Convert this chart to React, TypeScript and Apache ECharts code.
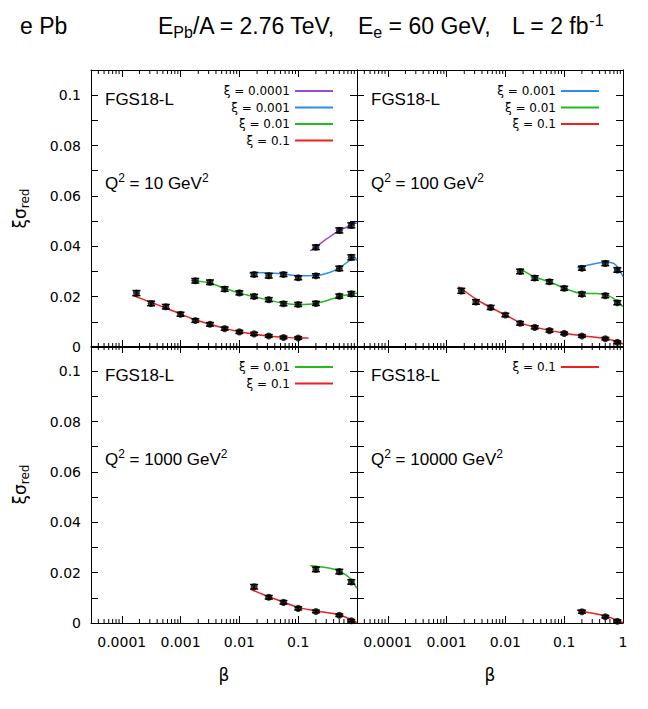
import { useEffect, useRef } from 'react';
import * as echarts from 'echarts';

// ---- axes ----
const xTickLabels = ['0.0001', '0.001', '0.01', '0.1', '1'];
const xMinorTicks = [
  4e-5, 5e-5, 6e-5, 7e-5, 8e-5, 9e-5,
  2e-4, 3e-4, 4e-4, 5e-4, 6e-4, 7e-4, 8e-4, 9e-4,
  0.002, 0.003, 0.004, 0.005, 0.006, 0.007, 0.008, 0.009,
  0.02, 0.03, 0.04, 0.05, 0.06, 0.07, 0.08, 0.09,
  0.2, 0.3, 0.4, 0.5, 0.6, 0.7, 0.8, 0.9,
];
const yTickLabels = ['0', '0.02', '0.04', '0.06', '0.08', '0.1'];
const q2Labels = ['10', '100', '1000', '10000'];

// ---- Q² = 10 GeV² ----
const q10_xi0001_beta = [0.2, 0.5, 0.8];
const q10_xi0001_val = [0.0396, 0.0463, 0.0483];
const q10_xi0001_err = [0.0009, 0.001, 0.001];
const q10_xi0001_curveBeta = [0.16, 0.2, 0.3, 0.5, 0.8, 1.0];
const q10_xi0001_curveVal = [0.0382, 0.0397, 0.0428, 0.0462, 0.0484, 0.0493];

const q10_xi001_beta = [0.0178, 0.0316, 0.0562, 0.1, 0.2, 0.5, 0.8];
const q10_xi001_val = [0.0288, 0.0283, 0.0288, 0.0275, 0.0283, 0.0312, 0.0356];
const q10_xi001_err = [0.0008, 0.0009, 0.0008, 0.0008, 0.0008, 0.0009, 0.001];
const q10_xi001_curveBeta = [0.0148, 0.0178, 0.0316, 0.0562, 0.1, 0.2, 0.35, 0.5, 0.8, 0.9, 1.0];
const q10_xi001_curveVal = [0.0293, 0.0296, 0.0295, 0.029, 0.0283, 0.0284, 0.0297, 0.0314, 0.0349, 0.0357, 0.0343];

const q10_xi01_beta = [0.00178, 0.00316, 0.00562, 0.01, 0.0178, 0.0316, 0.0562, 0.1, 0.2, 0.5, 0.8];
const q10_xi01_val = [0.0263, 0.0257, 0.023, 0.0215, 0.0201, 0.0188, 0.0172, 0.0169, 0.0173, 0.0202, 0.0211];
const q10_xi01_err = [0.0009, 0.0009, 0.0009, 0.0008, 0.0008, 0.0008, 0.0008, 0.0008, 0.0008, 0.0008, 0.0009];
const q10_xi01_curveBeta = [0.0015, 0.00178, 0.00316, 0.00562, 0.01, 0.0178, 0.0316, 0.0562, 0.1, 0.2, 0.5, 0.8, 1.0];
const q10_xi01_curveVal = [0.0264, 0.0263, 0.0254, 0.0233, 0.0214, 0.02, 0.0186, 0.0174, 0.0169, 0.0173, 0.02, 0.021, 0.0213];

const q10_xi1_beta = [0.000178, 0.000316, 0.000562, 0.001, 0.00178, 0.00316, 0.00562, 0.01, 0.0178, 0.0316, 0.0562, 0.1];
const q10_xi1_val = [0.0214, 0.0173, 0.016, 0.013, 0.0105, 0.009, 0.0073, 0.006, 0.0052, 0.0044, 0.0038, 0.0036];
const q10_xi1_err = [0.001, 0.0009, 0.0009, 0.0008, 0.0007, 0.0007, 0.0006, 0.0006, 0.0006, 0.0005, 0.0005, 0.0005];
const q10_xi1_curveBeta = [0.00015, 0.000178, 0.000316, 0.000562, 0.001, 0.00178, 0.00316, 0.00562, 0.01, 0.0178, 0.0316, 0.0562, 0.1, 0.15];
const q10_xi1_curveVal = [0.0205, 0.0199, 0.0177, 0.0155, 0.0131, 0.0108, 0.009, 0.0074, 0.0061, 0.0051, 0.0044, 0.0039, 0.0036, 0.0036];

// ---- Q² = 100 GeV² ----
const q100_xi001_beta = [0.2, 0.5, 0.8];
const q100_xi001_val = [0.0313, 0.0332, 0.0306];
const q100_xi001_err = [0.0008, 0.0009, 0.0009];
const q100_xi001_curveBeta = [0.167, 0.2, 0.35, 0.5, 0.7, 0.85, 1.0];
const q100_xi001_curveVal = [0.0316, 0.032, 0.0332, 0.0337, 0.0332, 0.0308, 0.0279];

const q100_xi01_beta = [0.0178, 0.0316, 0.0562, 0.1, 0.2, 0.5, 0.8];
const q100_xi01_val = [0.03, 0.0274, 0.0259, 0.0233, 0.021, 0.0204, 0.0176];
const q100_xi01_err = [0.0009, 0.0009, 0.0008, 0.0008, 0.0008, 0.0008, 0.0008];
const q100_xi01_curveBeta = [0.0192, 0.0316, 0.0562, 0.1, 0.2, 0.35, 0.5, 0.8, 1.0];
const q100_xi01_curveVal = [0.0306, 0.0278, 0.0259, 0.0234, 0.0213, 0.0212, 0.0209, 0.0182, 0.016];

const q100_xi1_beta = [0.00178, 0.00316, 0.00562, 0.01, 0.0178, 0.0316, 0.0562, 0.1, 0.2, 0.5, 0.8];
const q100_xi1_val = [0.0223, 0.0179, 0.0157, 0.0127, 0.0094, 0.0078, 0.0065, 0.0054, 0.0044, 0.0033, 0.0019];
const q100_xi1_err = [0.001, 0.0009, 0.0008, 0.0007, 0.0007, 0.0006, 0.0006, 0.0005, 0.0005, 0.0005, 0.0005];
const q100_xi1_curveBeta = [0.00158, 0.00178, 0.00316, 0.00562, 0.01, 0.0178, 0.0316, 0.0562, 0.1, 0.2, 0.5, 0.8, 1.0];
const q100_xi1_curveVal = [0.0239, 0.0232, 0.019, 0.0157, 0.0127, 0.0097, 0.0079, 0.0066, 0.0055, 0.0045, 0.0034, 0.0022, 0.0012];

// ---- Q² = 1000 GeV² ----
const q1000_xi01_beta = [0.2, 0.5, 0.8];
const q1000_xi01_val = [0.0213, 0.0204, 0.0163];
const q1000_xi01_err = [0.0009, 0.0009, 0.0009];
const q1000_xi01_curveBeta = [0.16, 0.2, 0.35, 0.5, 0.7, 0.8, 0.9, 1.0];
const q1000_xi01_curveVal = [0.0227, 0.0225, 0.0217, 0.0206, 0.0185, 0.017, 0.0153, 0.0138];

const q1000_xi1_beta = [0.0178, 0.0316, 0.0562, 0.1, 0.2, 0.5, 0.8];
const q1000_xi1_val = [0.0144, 0.0102, 0.0082, 0.0058, 0.0046, 0.0031, 0.0009];
const q1000_xi1_err = [0.0009, 0.0007, 0.0007, 0.0006, 0.0005, 0.0005, 0.0005];
const q1000_xi1_curveBeta = [0.0158, 0.0178, 0.0316, 0.0562, 0.1, 0.2, 0.5, 0.8, 1.0];
const q1000_xi1_curveVal = [0.0134, 0.0128, 0.0104, 0.0083, 0.0062, 0.0048, 0.0032, 0.0013, 0.0001];

// ---- Q² = 10000 GeV² ----
const q10000_xi1_beta = [0.2, 0.5, 0.8];
const q10000_xi1_val = [0.0045, 0.0025, 0.0007];
const q10000_xi1_err = [0.0006, 0.0005, 0.0005];
const q10000_xi1_curveBeta = [0.165, 0.2, 0.5, 0.8, 1.0];
const q10000_xi1_curveVal = [0.0052, 0.0047, 0.0028, 0.0011, 0.0001];

type XiSet = {
  name: string;
  beta: number[];
  val: number[];
  err: number[];
  curveBeta: number[];
  curveVal: number[];
};

const mk = (name: string, beta: number[], val: number[], err: number[], curveBeta: number[], curveVal: number[]): XiSet =>
  ({ name, beta, val, err, curveBeta, curveVal });

const panelSets: XiSet[][] = [
  [
    mk('ξ = 0.0001', q10_xi0001_beta, q10_xi0001_val, q10_xi0001_err, q10_xi0001_curveBeta, q10_xi0001_curveVal),
    mk('ξ = 0.001', q10_xi001_beta, q10_xi001_val, q10_xi001_err, q10_xi001_curveBeta, q10_xi001_curveVal),
    mk('ξ = 0.01', q10_xi01_beta, q10_xi01_val, q10_xi01_err, q10_xi01_curveBeta, q10_xi01_curveVal),
    mk('ξ = 0.1', q10_xi1_beta, q10_xi1_val, q10_xi1_err, q10_xi1_curveBeta, q10_xi1_curveVal),
  ],
  [
    mk('ξ = 0.001', q100_xi001_beta, q100_xi001_val, q100_xi001_err, q100_xi001_curveBeta, q100_xi001_curveVal),
    mk('ξ = 0.01', q100_xi01_beta, q100_xi01_val, q100_xi01_err, q100_xi01_curveBeta, q100_xi01_curveVal),
    mk('ξ = 0.1', q100_xi1_beta, q100_xi1_val, q100_xi1_err, q100_xi1_curveBeta, q100_xi1_curveVal),
  ],
  [
    mk('ξ = 0.01', q1000_xi01_beta, q1000_xi01_val, q1000_xi01_err, q1000_xi01_curveBeta, q1000_xi01_curveVal),
    mk('ξ = 0.1', q1000_xi1_beta, q1000_xi1_val, q1000_xi1_err, q1000_xi1_curveBeta, q1000_xi1_curveVal),
  ],
  [
    mk('ξ = 0.1', q10000_xi1_beta, q10000_xi1_val, q10000_xi1_err, q10000_xi1_curveBeta, q10000_xi1_curveVal),
  ],
];

// ---- styling ----
const LINE_COLORS: Record<string, string> = {
  'ξ = 0.0001': '#9a4ad6',
  'ξ = 0.001': '#2a8ef0',
  'ξ = 0.01': '#1ebe1e',
  'ξ = 0.1': '#f21e1e',
};
const TICK_FONT = 'DejaVu Sans';
const TEXT_FONT = 'Liberation Sans';
const PAGE_W = 648;
const GRID_LEFT = [91, 357, 91, 357];
const GRID_TOP = [70, 70, 346, 346];
const GRID_W = 266;
const GRID_H = 277;
const X_MIN = 3e-5;
const X_MAX = 1;
const Y_MAX = 0.11;

const xLabel = (v: number, hideOne: boolean) => {
  const hit = xTickLabels.find((l) => Math.abs(Math.log10(parseFloat(l)) - Math.log10(v)) < 1e-6);
  if (!hit) return '';
  if (hideOne && hit === '1') return '';
  return hit;
};
const yLabel = (v: number) => {
  const hit = yTickLabels.find((l) => Math.abs(parseFloat(l) - v) < 1e-9);
  return hit ?? '';
};

function buildOption(): any {
  const grid: any[] = [];
  const xAxis: any[] = [];
  const yAxis: any[] = [];
  const series: any[] = [];
  const legend: any[] = [];
  const graphic: any[] = [];

  panelSets.forEach((sets, i) => {
    const bottomRow = i >= 2;
    const leftCol = i % 2 === 0;
    grid.push({ left: GRID_LEFT[i], top: GRID_TOP[i], width: GRID_W, height: GRID_H });

    const axisLine = { show: true, onZero: false, lineStyle: { color: '#000', width: 1 } };
    const axisTick = { show: true, inside: true, length: 7, lineStyle: { color: '#000', width: 1 } };
    const xCommon = {
      type: 'log', logBase: 10, min: X_MIN, max: X_MAX, gridIndex: i,
      splitLine: { show: false }, axisLine, axisTick,
    };
    xAxis.push({
      ...xCommon, position: 'bottom',
      axisLabel: {
        show: bottomRow, margin: 12, color: '#000', fontFamily: TICK_FONT, fontSize: 14,
        showMinLabel: true, showMaxLabel: true,
        formatter: (v: number) => xLabel(v, leftCol),
      },
    });
    xAxis.push({ ...xCommon, position: 'top', axisLabel: { show: false } });

    const yCommon = {
      type: 'value', min: 0, max: Y_MAX, interval: 0.01, gridIndex: i,
      splitLine: { show: false }, axisLine, axisTick,
    };
    yAxis.push({
      ...yCommon, position: 'left',
      axisLabel: {
        show: leftCol, margin: 10, color: '#000', fontFamily: TICK_FONT, fontSize: 14,
        formatter: (v: number) => yLabel(v),
      },
    });
    yAxis.push({ ...yCommon, position: 'right', axisLabel: { show: false } });

    const xi = 2 * i;
    // minor ticks of the log β axis, bottom and top edges
    series.push({
      type: 'custom', xAxisIndex: xi, yAxisIndex: xi, silent: true, clip: false, z: 1,
      data: xMinorTicks.map((b) => [b, 0]),
      encode: { x: 0, y: 1 },
      renderItem: (params: any, api: any) => {
        const x = api.coord([api.value(0), 0])[0];
        const cs = params.coordSys;
        const st = { stroke: '#000', lineWidth: 1 };
        return {
          type: 'group',
          children: [
            { type: 'line', shape: { x1: x, y1: cs.y + cs.height, x2: x, y2: cs.y + cs.height - 4 }, style: st },
            { type: 'line', shape: { x1: x, y1: cs.y, x2: x, y2: cs.y + 4 }, style: st },
          ],
        };
      },
    });

    sets.forEach((s) => {
      const color = LINE_COLORS[s.name];
      series.push({
        type: 'line', name: s.name, xAxisIndex: xi, yAxisIndex: xi, z: 2, silent: true,
        smooth: 0.35, showSymbol: false,
        data: s.curveBeta.map((b, k) => [b, s.curveVal[k]]),
        lineStyle: { color, width: 1.5 }, itemStyle: { color },
      });
      series.push({
        type: 'custom', name: 'err', xAxisIndex: xi, yAxisIndex: xi, z: 3, silent: true,
        data: s.beta.map((b, k) => [b, s.val[k], s.err[k]]),
        encode: { x: 0, y: 1 },
        renderItem: (_p: any, api: any) => {
          const b = api.value(0);
          const v = api.value(1);
          const e = api.value(2);
          const hi = api.coord([b, v + e]);
          const lo = api.coord([b, v - e]);
          const cap = 4;
          const st = { stroke: '#000', lineWidth: 1.5 };
          return {
            type: 'group',
            children: [
              { type: 'line', shape: { x1: hi[0], y1: hi[1], x2: lo[0], y2: lo[1] }, style: st },
              { type: 'line', shape: { x1: hi[0] - cap, y1: hi[1], x2: hi[0] + cap, y2: hi[1] }, style: st },
              { type: 'line', shape: { x1: lo[0] - cap, y1: lo[1], x2: lo[0] + cap, y2: lo[1] }, style: st },
            ],
          };
        },
      });
      series.push({
        type: 'scatter', name: 'pts', xAxisIndex: xi, yAxisIndex: xi, z: 4, silent: true,
        symbol: 'circle', symbolSize: 7,
        data: s.beta.map((b, k) => [b, s.val[k]]),
        itemStyle: { color: '#000' },
      });
    });

    legend.push({
      orient: 'vertical', align: 'right',
      right: PAGE_W - (GRID_LEFT[i] + 242), top: GRID_TOP[i] + 13,
      icon: 'rect', itemWidth: 38, itemHeight: 2, itemGap: 0.5, padding: 0,
      selectedMode: false,
      textStyle: { color: '#000', fontFamily: TICK_FONT, fontSize: 12, lineHeight: 16 },
      data: sets.map((s) => s.name),
    });

    graphic.push({
      type: 'text', x: GRID_LEFT[i] + 14, y: GRID_TOP[i] + 29.5,
      style: { text: 'FGS18-L', fontFamily: TEXT_FONT, fontSize: 17, fill: '#000', align: 'left', verticalAlign: 'middle' },
    });
    graphic.push({
      type: 'text', x: GRID_LEFT[i] + 14, y: GRID_TOP[i] + 113,
      style: {
        text: `{m|Q}{s|2}{m| = ${q2Labels[i]} GeV}{s|2}`,
        align: 'left', verticalAlign: 'middle', fill: '#000',
        rich: {
          m: { fontFamily: TEXT_FONT, fontSize: 17, lineHeight: 22, fill: '#000' },
          s: { fontFamily: TEXT_FONT, fontSize: 12, lineHeight: 13, verticalAlign: 'top', fill: '#000' },
        },
      },
    });
    if (leftCol) {
      graphic.push({
        type: 'text', x: 20, y: GRID_TOP[i] + GRID_H / 2, rotation: Math.PI / 2,
        style: {
          text: '{m|ξσ}{s|red}', align: 'center', verticalAlign: 'middle', fill: '#000',
          rich: {
            m: { fontFamily: TICK_FONT, fontSize: 17, lineHeight: 22, fill: '#000' },
            s: { fontFamily: TICK_FONT, fontSize: 12, lineHeight: 13, verticalAlign: 'bottom', fill: '#000' },
          },
        },
      });
    }
    if (bottomRow) {
      graphic.push({
        type: 'text', x: GRID_LEFT[i] + GRID_W / 2, y: 675,
        style: { text: 'β', fontFamily: TICK_FONT, fontSize: 17, fill: '#000', align: 'center', verticalAlign: 'middle' },
      });
    }
  });

  const titleRich = {
    m: { fontFamily: TEXT_FONT, fontSize: 23, lineHeight: 28, fill: '#000' },
    sub: { fontFamily: TEXT_FONT, fontSize: 16, lineHeight: 16, verticalAlign: 'bottom', fill: '#000' },
    sup: { fontFamily: TEXT_FONT, fontSize: 16, lineHeight: 16, verticalAlign: 'top', fill: '#000' },
  };
  const titleParts = [
    { x: 20, text: '{m|e Pb}' },
    { x: 158, text: '{m|E}{sub|Pb}{m|/A = 2.76 TeV,}' },
    { x: 358, text: '{m|E}{sub|e}{m| = 60 GeV,}' },
    { x: 512, text: '{m|L = 2 fb}{sup|-1}' },
  ];
  titleParts.forEach((t) => {
    graphic.push({
      type: 'text', x: t.x, y: 26,
      style: { text: t.text, align: 'left', verticalAlign: 'middle', fill: '#000', rich: titleRich },
    });
  });

  return {
    animation: false,
    backgroundColor: '#fff',
    grid, xAxis, yAxis, series, legend, graphic,
  };
}

export default function App() {
  const ref = useRef<HTMLDivElement | null>(null);
  useEffect(() => {
    if (!ref.current) return;
    const chart = echarts.init(ref.current, undefined, { renderer: 'svg' });
    chart.setOption(buildOption());
    return () => chart.dispose();
  }, []);
  return (
    <div
      ref={ref}
      style={{ position: 'absolute', left: 0, top: 0, width: 648, height: 709, background: '#fff' }}
    />
  );
}
